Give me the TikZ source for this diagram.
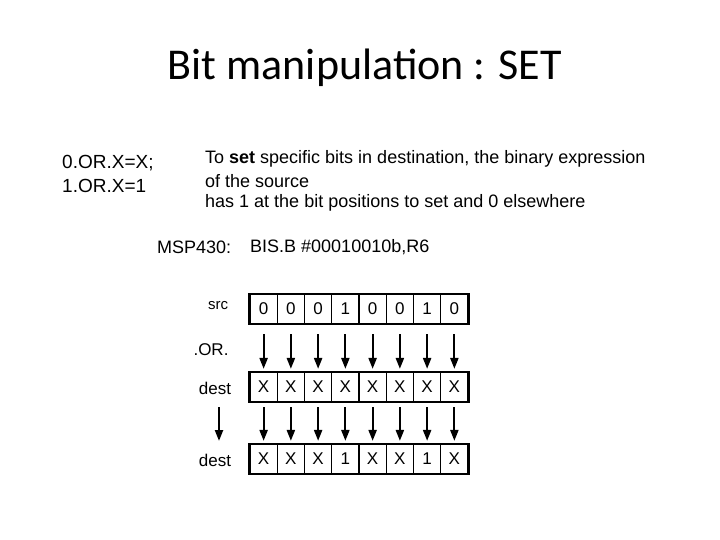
\documentclass[tikz,border=0pt]{standalone}
\usepackage{fontspec}
\setmainfont{Liberation Sans}
\newfontfamily\titlefont{Carlito}
\usetikzlibrary{arrows.meta}
\begin{document}
\begin{tikzpicture}[x=1pt,y=-1pt,
  txt/.style={anchor=west,inner sep=0,font=\fontsize{18}{21}\selectfont},
  lab/.style={inner sep=0,font=\fontsize{17}{19}\selectfont},
  cell/.style={draw,line width=1.2pt,minimum width=27.25pt,minimum height=29pt,inner sep=0,font=\fontsize{17}{19}\selectfont},
  outer/.style={draw,line width=2.5pt},
  arr/.style={-{Triangle[length=11pt,width=8pt]},line width=2.2pt}]
\useasboundingbox (0,0) rectangle (720,540);
\node[font=\titlefont\fontsize{44}{48}\selectfont] (title) at (365,68) {Bit manipulation : SET};
\node[txt,font=\fontsize{19}{21}\selectfont] (l1) at (62,163) {0.OR.X=X;};
\node[txt,font=\fontsize{19}{21}\selectfont] (l2) at (62,186) {1.OR.X=1};
\node[txt] (r1) at (205,159) {To \textbf{set} specific bits in destination, the binary expression};
\node[txt] (r2) at (205,181) {of the source};
\node[txt] (r3) at (205,203) {has 1 at the bit positions to set and 0 elsewhere};
\node[txt] (m1) at (157,247) {MSP430:};
\node[txt] (m2) at (250,247) {BIS.B \#00010010b,R6};
\node[lab,font=\fontsize{15}{16}\selectfont] (lsrc) at (218,306) {src};
\node[lab] (lor) at (211,350) {.OR.};
\node[lab] (ld1) at (215,388) {dest};
\node[lab] (ld2) at (215,460) {dest};
\foreach \r/\y/\vals in {a/309/{0,0,0,1,0,0,1,0},b/387/{X,X,X,X,X,X,X,X},c/459/{X,X,X,1,X,X,1,X}}{
  \foreach \v [count=\i] in \vals {
    \node[cell] (\r\i) at ({250+13.625+27.25*(\i-1)},\y) {\v};
  }
  \draw[outer] (\r1.north west) rectangle (\r8.south east);
}
\foreach \i in {1,...,8}{
  \draw[arr] ([yshift=-10pt]a\i.south) -- ([yshift=3pt]b\i.north);
  \draw[arr] ([yshift=-5pt]b\i.south) -- ([yshift=3pt]c\i.north);
}
\coordinate (ls) at (219,407);
\coordinate (le) at (219,441);
\draw[arr] (ls) -- (le);
\end{tikzpicture}
\end{document}
